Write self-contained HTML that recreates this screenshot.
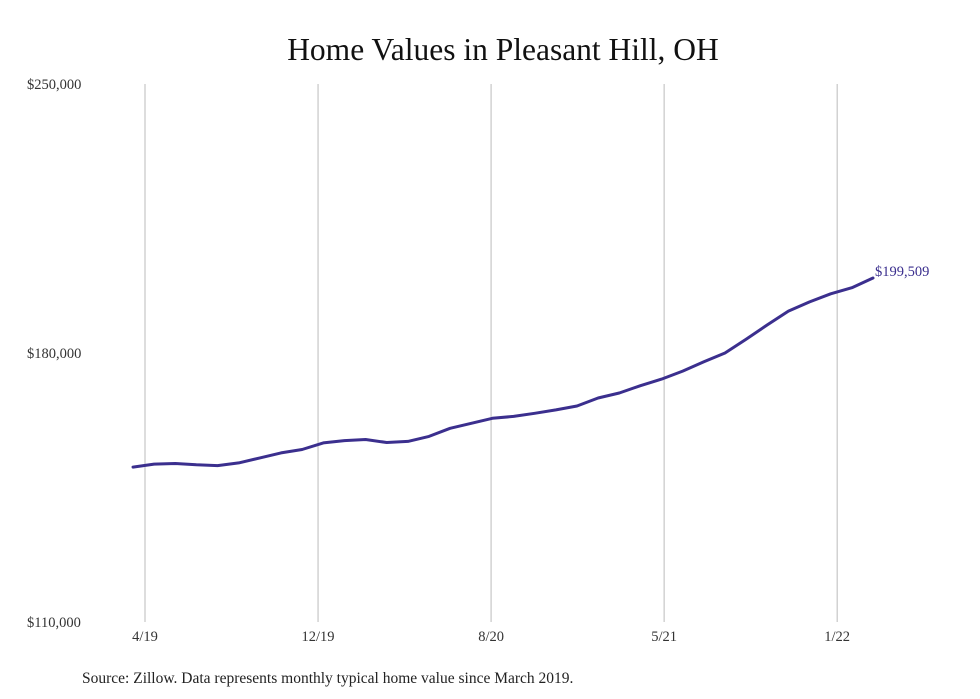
<!DOCTYPE html>
<html><head><meta charset="utf-8"><style>
html,body{margin:0;padding:0;background:#fff;}
svg{display:block;font-family:"Liberation Serif",serif;}
</style></head><body>
<svg id="chart" width="980" height="699" viewBox="0 0 980 699">
<text x="503" y="60" text-anchor="middle" font-size="31.5" fill="#111">Home Values in Pleasant Hill, OH</text>
<g id="grid"></g>
<g id="yaxis"></g>
<g id="xaxis"></g>
<g id="series"></g>
<text x="82" y="683" font-size="15.5" fill="#222">Source: Zillow. Data represents monthly typical home value since March 2019.</text>
</svg>
<script>
const values = [150.3,151.1,151.25,150.9,150.7,151.4,152.7,154.0,154.9,156.6,157.2,157.5,156.7,157.0,158.3,160.4,161.7,163.0,163.5,164.3,165.2,166.2,168.3,169.6,171.5,173.2,175.3,177.7,180.0,183.6,187.3,190.9,193.3,195.4,197.0,199.509];
const yTicks = [110000,180000,250000];
const yTickLabels = ["$110,000","$180,000","$250,000"];
const xTickLabels = ["4/19","12/19","8/20","5/21","1/22"];
const xTickMonths = [1,9,17,25,33];
const endLabel = "$199,509";

const NS="http://www.w3.org/2000/svg";
const yMin=110000,yMax=250000,yTop=84,yBot=622;
function yScale(v){return yBot-(v-yMin)/(yMax-yMin)*(yBot-yTop);}
const x0=133,x1=873;
function xScale(i){return x0+i*(x1-x0)/(values.length-1);}
function tickX(m){return 145+(m-1)*21.63;}
function mk(tag,attrs,parent){const e=document.createElementNS(NS,tag);for(const k in attrs)e.setAttribute(k,attrs[k]);parent.appendChild(e);return e;}
const grid=document.getElementById('grid'),ya=document.getElementById('yaxis'),xa=document.getElementById('xaxis'),ser=document.getElementById('series');
yTicks.forEach((t,i)=>{
  const tx=mk('text',{x:27,y:yScale(t)+5,'font-size':14.5,fill:'#333'},ya);
  
  
  tx.textContent=yTickLabels[i];
});
xTickLabels.forEach((l,i)=>{
  const x=tickX(xTickMonths[i]);
  const g=mk('line',{x1:x,x2:x,y1:yTop,y2:yBot,stroke:'#bbb','stroke-width':1},grid);
  
  
  const tx=mk('text',{x:x,y:641,'text-anchor':'middle','font-size':14.5,fill:'#333'},xa);
  
  
  tx.textContent=l;
});
const pts=values.map((v,i)=>xScale(i).toFixed(1)+','+yScale(v*1000).toFixed(1)).join(' ');
const pl=mk('polyline',{points:pts,fill:'none',stroke:'#3b2f8e','stroke-width':3,'stroke-linejoin':'round','stroke-linecap':'round'},ser);


const last=values.length-1;
const el=mk('text',{x:xScale(last)+2,y:yScale(values[last]*1000)-2,'font-size':14.5,fill:'#3b2f8e'},ser);


el.textContent=endLabel;
</script>
</body></html>
